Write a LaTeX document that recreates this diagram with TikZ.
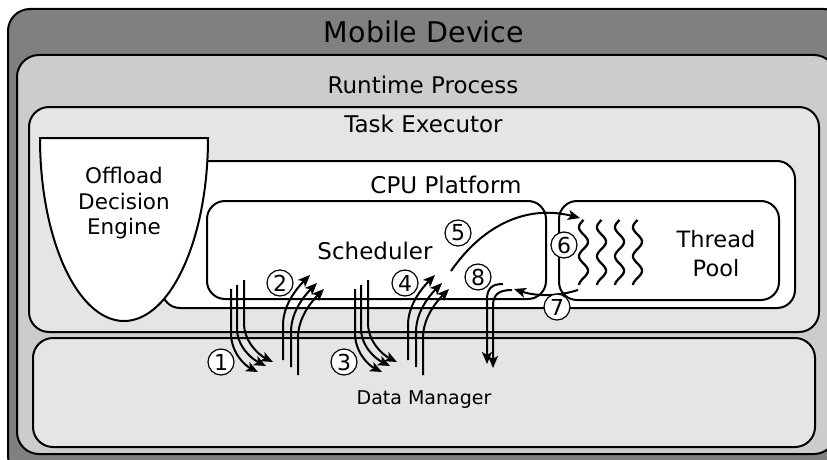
\documentclass[tikz,border=0pt]{standalone}
\usepackage{fontspec}
\setmainfont{DejaVu Sans}
\usetikzlibrary{arrows.meta}
\definecolor{devicegray}{gray}{0.5}
\definecolor{runtimegray}{gray}{0.8}
\definecolor{executorgray}{gray}{0.9}
\begin{document}
\begin{tikzpicture}[x=1pt,y=-1pt,
  container/.style={draw=black, line width=2pt, rounded corners=#1, inner sep=0pt},
  container/.default=20pt,
  label/.style={anchor=base, inner sep=0pt, font=\fontsize{#1}{#1}\selectfont},
  label/.default=23,
  flowarrow/.style={line width=2pt, -{Stealth[length=12pt,width=10pt,inset=3pt]}},
  threadwave/.style={line width=2.3pt},
  stepnum/.style={circle, draw=black, fill=white, line width=1.2pt,
    minimum size=26pt, inner sep=0pt,
    font=\fontsize{22}{22}\selectfont}]
\useasboundingbox (0,0) rectangle (827,460);
\clip (0,0) rectangle (827,460);

% nested containers
\node[container=22pt, fill=devicegray, minimum width=838pt, minimum height=469pt] (device) at (427,243.5) {};
\node[container=22pt, fill=runtimegray, minimum width=819pt, minimum height=399pt] (runtime) at (426.5,254.5) {};
\node[container, fill=executorgray, minimum width=790pt, minimum height=225pt] (executor) at (424,219.5) {};
\node[container, fill=executorgray, minimum width=782pt, minimum height=109pt] (datamgr) at (424,392.5) {};
\node[container=18pt, fill=white, minimum width=633pt, minimum height=147pt] (cpu) at (478.5,234.5) {};

% offload decision engine (cup shape)
\draw[line width=2pt, fill=white] (40,138) -- (208,138)
  arc[start angle=0, end angle=180, x radius=84, y radius=183] -- cycle;

\node[container=18pt, fill=white, minimum width=339pt, minimum height=98pt] (scheduler) at (376.5,250) {};
\node[container=18pt, fill=white, minimum width=220pt, minimum height=99pt] (threadpool) at (669,250.5) {};

% threads
\foreach \cx in {583.5,601.5,619.5,637.5}
  \draw[threadwave] plot[domain=0:65, samples=80, smooth]
    ({\cx - 4.5*sin(\x/14.5*180)}, {220+\x});

% titles
\node[label=28.5] (deviceT) at (424,43) {Mobile Device};
\node[label] (runtimeT) at (423,93) {Runtime Process};
\node[label] (executorT) at (423.5,132) {Task Executor};
\node[label] (cpuT) at (446,193) {CPU Platform};
\node[label] (schedulerT) at (375,259) {Scheduler};
\node[label=22.5] (threadT) at (716,247) {Thread};
\node[label=22.5] (poolT) at (716,276) {Pool};
\node[label=21.5] (odeA) at (124,183) {Offload};
\node[label=21.5] (odeB) at (124,209) {Decision};
\node[label=21.5] (odeC) at (124,234) {Engine};
\node[label=19] (datamgrT) at (424,404) {Data Manager};

% steps 1 and 3: scheduler down to data manager
\foreach \dx/\g in {0/1,124/3} {
  \begin{scope}[xshift=\dx]
    \coordinate (s\g a) at (231,289); \coordinate (t\g a) at (258,372);
    \coordinate (s\g b) at (237,285); \coordinate (t\g b) at (266,366);
    \coordinate (s\g c) at (244,280); \coordinate (t\g c) at (273,362);
    \draw[flowarrow] (s\g a) -- (231,333) .. controls (231,352) and (244,365) .. (t\g a);
    \draw[flowarrow] (s\g b) -- (237,328) .. controls (237,347) and (252,359) .. (t\g b);
    \draw[flowarrow] (s\g c) -- (244,323) .. controls (244,342) and (259,355) .. (t\g c);
  \end{scope}
}
% steps 2 and 4: data manager up to scheduler
\foreach \dx/\g in {0/2,125/4} {
  \begin{scope}[xshift=\dx]
    \coordinate (s\g a) at (283,360); \coordinate (t\g a) at (310,275);
    \coordinate (s\g b) at (291,367); \coordinate (t\g b) at (317,283);
    \coordinate (s\g c) at (298,375); \coordinate (t\g c) at (324,289);
    \draw[flowarrow] (s\g a) -- (283,325) .. controls (283,305) and (297,288) .. (t\g a);
    \draw[flowarrow] (s\g b) -- (291,332) .. controls (291,312) and (304,296) .. (t\g b);
    \draw[flowarrow] (s\g c) -- (298,338) .. controls (298,318) and (311,302) .. (t\g c);
  \end{scope}
}

% step 5: scheduler to thread pool
\coordinate (s5) at (451,271);
\coordinate (t5) at (580,218);
\draw[flowarrow] (s5) .. controls (485,222) and (530,205) .. (t5);

% step 7: thread pool back to scheduler
\coordinate (s7) at (578,290);
\coordinate (t7) at (514,289);
\draw[flowarrow] (s7) .. controls (556,297) and (535,296) .. (t7);

% step 8: scheduler to data manager
\coordinate (s8a) at (503,284); \coordinate (t8a) at (487,364);
\coordinate (s8b) at (512,290); \coordinate (t8b) at (493,368);
\draw[flowarrow] (s8a) .. controls (491,284) and (487,289) .. (487,300) -- (t8a);
\draw[flowarrow] (s8b) .. controls (498,290) and (493,295) .. (493,306) -- (t8b);

% step numbers
\node[stepnum] (n1) at (221,362) {1};
\node[stepnum] (n2) at (280,283) {2};
\node[stepnum] (n3) at (344,362) {3};
\node[stepnum] (n4) at (405,283) {4};
\node[stepnum] (n5) at (458,233) {5};
\node[stepnum] (n6) at (564,245) {6};
\node[stepnum] (n7) at (557,307) {7};
\node[stepnum] (n8) at (478,277) {8};
\end{tikzpicture}
\end{document}
